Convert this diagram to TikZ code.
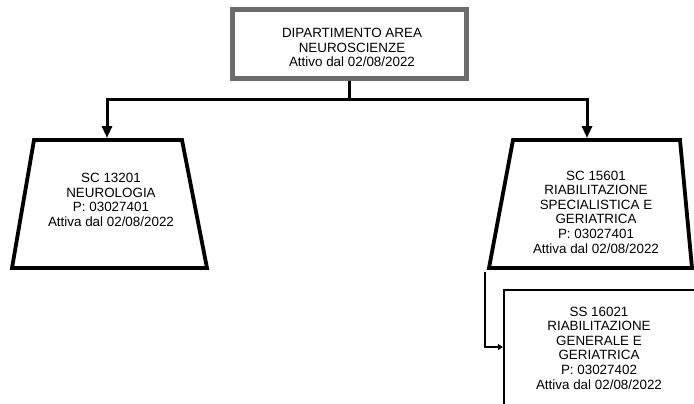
\documentclass[tikz,border=0pt]{standalone}
\usepackage{fontspec}
\setmainfont{Liberation Sans}
\usetikzlibrary{arrows.meta}

\tikzset{
  deptbox/.style={draw=black!58, line width=5pt, fill=white, minimum width=234pt,
    minimum height=69pt},
  unit/.style={align=center},
  scline/.style={line width=3.8pt, line join=miter},
  ssline/.style={line width=2.2pt},
  link/.style={line width=3pt, -{Triangle[width=10pt,length=12pt]}},
  sublink/.style={line width=1.6pt, -{Triangle[width=6pt,length=5pt]}},
}

\begin{document}
\begin{tikzpicture}[x=1pt,y=-1pt,font=\fontsize{13.4}{14.6}\selectfont]
            \def\dal{dal 02/08/2022}
            \def\neuroshape{(34,140) -- (182,140) -- (207,268) -- (12,268) -- cycle}
            \def\riabshape{(513,140) -- (680,140) -- (692,268) -- (489,268) -- cycle}
            \clip (0,0) rectangle (694,404);

            % department
            \node[deptbox] (dept) at (349.5,44) {};
            \node[unit] (depttext) at (352,47.5) {DIPARTIMENTO AREA\\NEUROSCIENZE\\Attivo \dal};

            % SC 13201
            \draw[scline] \neuroshape;
            \node[unit] (neuro) at (111,200) {SC 13201\\NEUROLOGIA\\P: 03027401\\Attiva \dal};
            \coordinate (neurotop) at (107,138);

            % SC 15601
            \draw[scline] \riabshape;
            \node[unit] (riab) at (596,212)
                {SC 15601\\RIABILITAZIONE\\SPECIALISTICA E\\GERIATRICA\\P: 03027401\\Attiva \dal};
            \coordinate (riabtop) at (587,138);
            \coordinate (riabfoot) at (485,272);

            % SS 16021
            \node[ssline, draw, minimum width=200pt, minimum height=140pt] (ss) at (604,360) {};
            \node[unit] (sstext) at (599,348)
                {SS 16021\\RIABILITAZIONE\\GENERALE E\\GERIATRICA\\P: 03027402\\Attiva \dal};

            % connectors
            \coordinate (bar) at (dept.south |- 0,100);
            \draw[line width=3pt] (dept.south) -- (bar);
            \draw[link] (bar) -| (neurotop);
            \draw[link] (bar) -| (riabtop);
            \draw[sublink] (riabfoot) |- (ss.west |- 0,347);
        \end{tikzpicture}
\end{document}
